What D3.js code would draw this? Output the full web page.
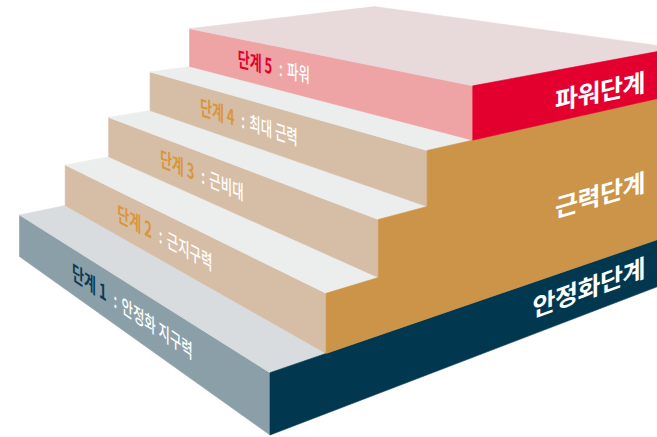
<!DOCTYPE html>
<html>
<head>
<meta charset="utf-8">
<script src="https://cdn.jsdelivr.net/npm/d3@7"></script>
<style>
  body { margin: 0; background: #fff; }
  svg { display: block; }
</style>
</head>
<body>
<div id="stairs"></div>
<script>
!function () {
  "use strict";

  // steps, bottom to top
  var stepLevels = [1, 2, 3, 4, 5];
  var stepNames = ["단계 1", "단계 2", "단계 3", "단계 4", "단계 5"];
  var stepDescs = ["안정화 지구력", "근지구력", "근비대", "최대 근력", "파워"];

  // phases painted on the side of the stairs (from level -> to level)
  var phaseNames = ["안정화단계", "근력단계", "파워단계"];
  var phaseFrom = [0, 1, 4];
  var phaseTo = [1, 4, 5];

  // depth of the top landing, in step runs
  var topDepth = 9.4;

  // colours
  var riserFill = ["#8a9fa8", "#d6bea6", "#d6bea6", "#d6bea6", "#eea3a5"];
  var treadFill = ["#d8dcde", "#eceeee", "#eceeee", "#eceeee", "#e8d9da"];
  var nameFill  = ["#0a3a56", "#d9963c", "#d9963c", "#d9963c", "#e4002e"];
  var phaseFill = ["#02384f", "#cc9448", "#e4002e"];
  var phaseLabelLevel = [0.5, 2.3, 4.4];

  var width = 657, height = 437;
  var font = '"Noto Sans CJK KR", "Noto Sans", sans-serif';

  // vanishing point of the depth lines
  var vp = {x: 1850, y: -170};

  // the two ends of the stairs: x of the front corner, how fast depth shrinks,
  // and a scale from level to height at the front edge
  var ends = {
    left:  {x0: 19.5, k: 0.0256, y: d3.scaleLinear().domain([0, 5]).range([256.6, 256.6 - 5 * 41.5])},
    right: {x0: 270,  k: 0.0368, y: d3.scaleLinear().domain([0, 5]).range([435, 435 - 5 * 62.3])}
  };

  function project(end, level, depth) {
    var e = ends[end], r = 1 / (1 + e.k * depth);
    return [vp.x - (vp.x - e.x0) * r, vp.y + (e.y(level) - vp.y) * r];
  }

  function pathOf(pts) {
    return "M" + pts.join("L") + "Z";
  }

  var svg = d3.select("#stairs").append("svg")
    .attr("width", width)
    .attr("height", height);

  // risers and treads
  var faces = [];
  stepLevels.forEach(function (lv, i) {
    var z0 = lv - 1, z1 = lv < stepLevels.length ? lv : topDepth;
    faces.push({
      pts: [project("left", lv - 1, z0), project("left", lv, z0), project("right", lv, z0), project("right", lv - 1, z0)],
      fill: riserFill[i]
    });
    faces.push({
      pts: [project("left", lv, z0), project("left", lv, z1), project("right", lv, z1), project("right", lv, z0)],
      fill: treadFill[i]
    });
  });

  // side of the stairs, one band per phase following the step profile
  phaseNames.forEach(function (name, i) {
    var pts = [], a = phaseFrom[i], b = phaseTo[i];
    for (var lv = a; lv < b; lv++) {
      pts.push(project("right", lv, lv));
      pts.push(project("right", lv + 1, lv));
    }
    pts.push(project("right", b, topDepth));
    pts.push(project("right", a, topDepth));
    faces.push({pts: pts, fill: phaseFill[i]});
  });

  svg.append("g").attr("class", "faces")
    .selectAll("path")
    .data(faces)
    .enter().append("path")
      .attr("d", function (d) { return pathOf(d.pts); })
      .attr("fill", function (d) { return d.fill; })
      .attr("stroke", function (d) { return d.fill; })
      .attr("stroke-width", 0.6)
      .attr("stroke-linejoin", "round");

  // step labels, skewed onto each riser (tall condensed type)
  var deg = 180 / Math.PI;
  var stepText = svg.append("g").attr("class", "step-labels")
    .selectAll("text")
    .data(stepLevels)
    .enter().append("text")
      .attr("font-family", font)
      .attr("transform", function (lv, i) {
        var a = project("left", lv - 0.5, lv - 1),
            b = project("right", lv - 0.5, lv - 1),
            t = 0.21 - 0.01 * i,
            x = a[0] + t * (b[0] - a[0]),
            y = a[1] + t * (b[1] - a[1]),
            ang = Math.atan((b[1] - a[1]) / (b[0] - a[0])) * deg;
        return "translate(" + x + "," + y + ") skewY(" + ang + ") scale(0.62,1)";
      });

  stepText.append("tspan")
    .attr("dy", "0.36em")
    .attr("font-size", 21)
    .attr("font-weight", 700)
    .attr("fill", function (lv, i) { return nameFill[i]; })
    .text(function (lv, i) { return stepNames[i]; });

  stepText.append("tspan")
    .attr("dx", 11)
    .attr("font-size", 20)
    .attr("font-weight", 500)
    .attr("fill", "#fff")
    .text(":");

  stepText.append("tspan")
    .attr("dx", 7)
    .attr("font-size", 20)
    .attr("font-weight", 500)
    .attr("fill", "#fff")
    .text(function (lv, i) { return stepDescs[i]; });

  // phase labels on the side, right aligned
  var sideRight = 645;
  svg.append("g").attr("class", "phase-labels")
    .selectAll("text")
    .data(phaseNames)
    .enter().append("text")
      .attr("font-family", font)
      .attr("font-size", 25)
      .attr("font-weight", 700)
      .attr("letter-spacing", -0.5)
      .attr("fill", "#fff")
      .attr("text-anchor", "end")
      .attr("dy", "0.36em")
      .attr("transform", function (d, i) {
        var e = ends.right,
            r = (vp.x - sideRight) / (vp.x - e.x0),
            y = vp.y + (e.y(phaseLabelLevel[i]) - vp.y) * r,
            ang = Math.atan((vp.y - y) / (vp.x - sideRight)) * deg;
        return "translate(" + sideRight + "," + y + ") skewY(" + ang + ")";
      })
      .text(function (d) { return d; });
}();
</script>
</body>
</html>
